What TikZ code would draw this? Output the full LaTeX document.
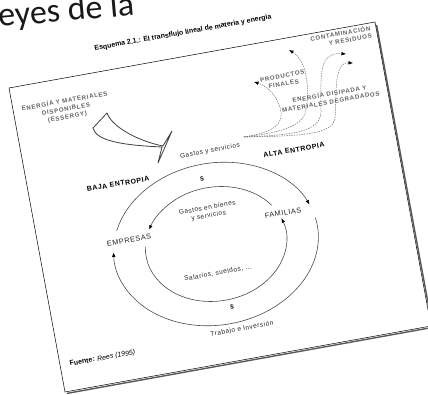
\documentclass[tikz,border=0pt]{standalone}
\usepackage{fontspec}
\setmainfont{Liberation Sans}
\newfontfamily\carlito{Carlito}
\newfontfamily\spaced[LetterSpace=8]{Liberation Sans}
\newfontfamily\wide[LetterSpace=12]{Liberation Sans}
\usetikzlibrary{arrows.meta,calc}
\begin{document}
\begin{tikzpicture}[x=1pt,y=1pt,
  rot/.style={rotate=10.2, inner sep=0pt},
  lbl/.style={font=\fontsize{6.5}{8}\selectfont\spaced, text=black!85},
  bigcaps/.style={font=\fontsize{7.3}{8.5}\selectfont\spaced, text=black!85},
  gcaps/.style={font=\fontsize{6.1}{8}\selectfont\wide\bfseries, text=black!62, align=center},
  ent/.style={font=\fontsize{7}{8}\selectfont\spaced\bfseries, text=black},
  ring/.style={draw=black!70, line width=0.6pt},
  arr/.style={-{Latex[length=4.5pt,width=3.6pt,color=black]}},
  dsh/.style={draw=black!55, line width=0.5pt, dash pattern=on 1.5pt off 1pt},
]
\useasboundingbox (0,-395) rectangle (428,0);
\clip (0,-395) rectangle (428,0);
\fill[white] (0,-395) rectangle (428,0);

% slide title fragment
\node[anchor=base west, rotate=5, inner sep=0pt, font=\fontsize{34}{34}\selectfont\carlito, text=black!90] (slide) at (-1,-27) {eyes de la};

% frame
\coordinate (TL) at (9,-88);
\coordinate (TR) at (375,-22);
\coordinate (BR) at (431,-326);
\coordinate (BL) at (65,-392);
\draw[black!65, line width=1.4pt] ($(TR)+(1.6,-3)$) -- ($(BR)+(1.6,-1.4)$) -- ($(BL)+(2,-1.4)$);
\draw[black, line width=0.5pt] (TL) -- (TR) -- (BR) -- (BL) -- cycle;

% title
\node[rot, font=\fontsize{7}{8}\selectfont\bfseries] (title) at (183,-33) {Esquema 2.1.: El transflujo lineal de materia y energia};

% input arrow shape
\draw[draw=black!75, line width=0.8pt, line join=round]
  (93,-128) .. controls (96,-140) and (118,-145) .. (162,-147)
  -- (158,-163) -- (172,-131) -- (163,-146)
  .. controls (138,-141) and (112,-127) .. (107,-113) -- cycle;

% labels
\node[rot, gcaps] (ene) at (66,-109) {ENERGÍA Y MATERIALES\\DISPONIBLES\\(ESSERGY)};
\node[rot, lbl] (gys) at (210,-151) {Gastos y servicios};
\node[rot, ent] (baja) at (118,-184) {BAJA ENTROPIA};
\node[rot, ent] (alta) at (294,-150) {ALTA ENTROPIA};
\node[rot, lbl, font=\fontsize{6.5}{7.5}\selectfont\bfseries] (s1) at (202,-179) {\$};
\node[rot, lbl, align=center] (gbs) at (208,-212) {Gastos en bienes\\y servicios};
\node[rot, bigcaps] (fam) at (283,-213) {FAMILIAS};
\node[rot, bigcaps] (emp) at (129,-240) {EMPRESAS};
\node[rot, lbl] (sal) at (218,-273) {Salarios, sueldos, ...};
\node[rot, lbl, font=\fontsize{6.5}{7.5}\selectfont\bfseries] (s2) at (232,-307) {\$};
\node[rot, lbl] (tra) at (242,-329) {Trabajo e Inversión};
\node[rot, gcaps, align=right] (cont) at (341,-37) {CONTAMINACIÓN\\Y RESIDUOS};
\node[rot, gcaps] (prod) at (283,-80) {PRODUCTOS\\FINALES};
\node[rot, gcaps] (edis) at (330,-97.5) {ENERGÍA DISIPADA Y\\MATERIALES DEGRADADOS};
\node[rot, anchor=base west, font=\fontsize{7}{8}\selectfont] (fuente) at (70,-366) {\textbf{Fuente:} \textit{Rees (1995)}};

% circular flows
\begin{scope}[shift={(216,-244)}, rotate=10.2]
  \draw[ring, arr] (158:103 and 81) arc[start angle=158, end angle=16, x radius=103, y radius=81];
  \draw[ring, arr] (6:103 and 81) arc[start angle=6, end angle=-187, x radius=103, y radius=81];
  \draw[ring, arr] (30:71 and 57) arc[start angle=30, end angle=153, x radius=71, y radius=57];
  \draw[ring, arr] (170:71 and 57) arc[start angle=170, end angle=374, x radius=71, y radius=57];
\end{scope}

% dissipation flows
\coordinate (s0) at (244,-137);
\coordinate (t1) at (254,-82);
\coordinate (t2) at (289,-50);
\coordinate (t3) at (346,-54);
\coordinate (t4) at (353,-63);
\draw[dsh, arr] (s0) .. controls (268,-133) and (283,-127) .. (281,-112) .. controls (279,-98) and (268,-86) .. (t1);
\draw[dsh, arr] (s0) .. controls (276,-133) and (303,-128) .. (306,-110) .. controls (310,-85) and (306,-60) .. (t2);
\draw[dsh, arr] (s0) .. controls (290,-135) and (320,-133) .. (321,-112) .. controls (321,-75) and (318,-52) .. (t3);
\draw[dsh, arr] (s0) .. controls (300,-136) and (333,-135) .. (335,-118) .. controls (337,-95) and (333,-62) .. (t4);
\end{tikzpicture}
\end{document}
